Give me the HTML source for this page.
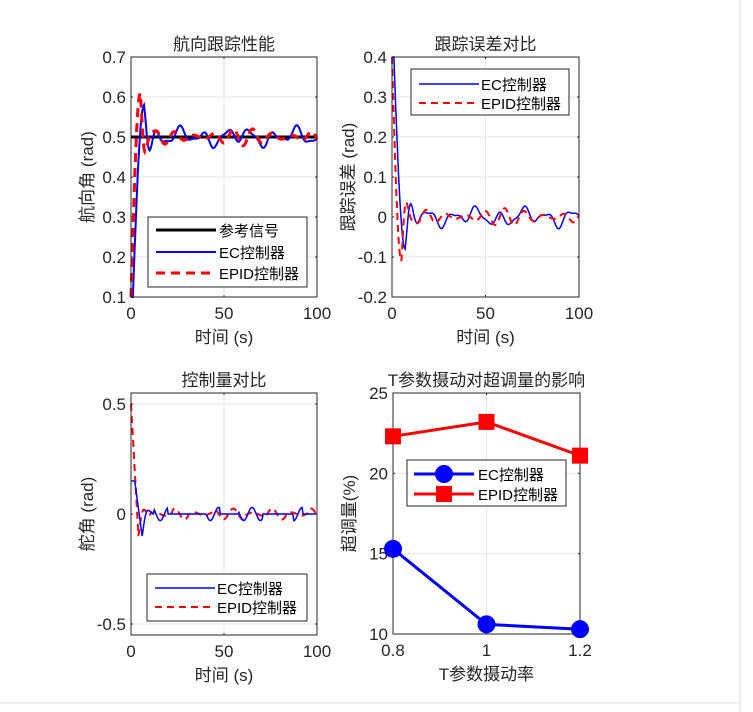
<!DOCTYPE html>
<html><head><meta charset="utf-8"><style>
body{margin:0;background:#fff;}
svg{display:block;font-family:"Liberation Sans","Noto Sans CJK SC",sans-serif;}
</style></head><body>
<svg id="s" width="753" height="712" viewBox="0 0 753 712" xmlns="http://www.w3.org/2000/svg">
<rect width="753" height="712" fill="#fff"/>
<line x1="740" y1="0" x2="740" y2="712" stroke="#ddd"/>
<line x1="0" y1="703" x2="740" y2="703" stroke="#ddd"/>
<g id="g"></g>
</svg>
<script>
const g=document.getElementById('g');let h='';
function axes(x0,y0,x1,y1,xt,yt,title,xl,yl){
 h+=`<rect x="${x0}" y="${y0}" width="${x1-x0}" height="${y1-y0}" fill="#fff"/>`;
 xt.forEach(([p,l])=>{h+=`<line x1="${p}" y1="${y0}" x2="${p}" y2="${y1}" stroke="#e6e6e6"/><line x1="${p}" y1="${y1}" x2="${p}" y2="${y1-2}" stroke="#262626"/><line x1="${p}" y1="${y0}" x2="${p}" y2="${y0+2}" stroke="#262626"/><text x="${p}" y="${y1+22}" font-size="17" text-anchor="middle" fill="#262626">${l}</text>`;});
 yt.forEach(([p,l])=>{h+=`<line x1="${x0}" y1="${p}" x2="${x1}" y2="${p}" stroke="#e6e6e6"/><line x1="${x0}" y1="${p}" x2="${x0+2}" y2="${p}" stroke="#262626"/><line x1="${x1}" y1="${p}" x2="${x1-2}" y2="${p}" stroke="#262626"/><text x="${x0-5}" y="${p+6}" font-size="17" text-anchor="end" fill="#262626">${l}</text>`;});
 h+=`<text x="${(x0+x1)/2}" y="${y0-7}" font-size="17" text-anchor="middle" fill="#262626">${title}</text>`;
 h+=`<text x="${(x0+x1)/2}" y="${y1+46}" font-size="17" text-anchor="middle" fill="#262626">${xl}</text>`;
 h+=`<text transform="translate(${x0-38},${(y0+y1)/2}) rotate(-90)" font-size="17" text-anchor="middle" fill="#262626">${yl}</text>`;
}
function frame(x0,y0,x1,y1){h+=`<rect x="${x0}" y="${y0}" width="${x1-x0}" height="${y1-y0}" fill="none" stroke="#262626"/>`;}
function path(pts,col,w,dash){h+=`<polyline points="${pts.map(p=>p[0].toFixed(1)+','+p[1].toFixed(1)).join(' ')}" fill="none" stroke="${col}" stroke-width="${w}" ${dash?'stroke-dasharray="'+dash+'"':''}/>`;}
function noise(t,s){return 0.5*Math.sin(t*0.5+s)+0.3*Math.sin(t*0.21+2*s)+0.2*Math.sin(t*0.9+3*s);}
function ec(t){ if(t<1)return 0.1; if(t<7)return 0.1+0.48*Math.sin((t-1)/6*Math.PI/2); const d=t-7;return 0.5+0.08*Math.exp(-d/3)*Math.cos(d*0.9)+0.03*noise(t,1)*(1-Math.exp(-d/5));}
function ep(t){ if(t<5)return 0.1+0.51*Math.sin(t/5*Math.PI/2); const d=t-5;return 0.5+0.11*Math.exp(-d/2)*Math.cos(d*1.1)+0.022*Math.sin(t*0.6)*(1-Math.exp(-d/5))*(0.6+0.4*Math.sin(t*0.13));}
{const X=t=>131+t*1.86,Y=v=>297-(v-0.1)*400;
axes(131,57,317,297,[[131,0],[224,50],[317,100]],[0.1,0.2,0.3,0.4,0.5,0.6,0.7].map(v=>[Y(v),v]),'航向跟踪性能','时间 (s)','航向角 (rad)');
path([[X(0),Y(.5)],[X(100),Y(.5)]],'#000',3);
let a=[],b=[];for(let t=0;t<=100;t+=0.5){a.push([X(t),Y(ec(t))]);b.push([X(t),Y(ep(t))]);}
path(a,'#0000ff',2);path(b,'#ff0000',3,'9,6');
frame(131,57,317,297);
h+=`<rect x="148" y="217" width="159" height="70" fill="#fff" stroke="#262626"/>`;
path([[156,230],[216,230]],'#000',3);path([[156,252],[216,252]],'#0000ff',2);path([[156,273],[216,273]],'#ff0000',3,'9,6');
h+=`<text x="219" y="236" font-size="15">参考信号</text><text x="219" y="258" font-size="15">EC控制器</text><text x="219" y="279" font-size="15">EPID控制器</text>`;}
{const X=t=>392+t*1.87,Y=v=>297-(v+0.2)*400;
axes(392,57,579,297,[[392,0],[485.5,50],[579,100]],[-0.2,-0.1,0,0.1,0.2,0.3,0.4].map(v=>[Y(v),v]),'跟踪误差对比','时间 (s)','跟踪误差 (rad)');
let a=[],b=[];for(let t=0;t<=100;t+=0.5){a.push([X(t),Y(0.5-ec(t))]);b.push([X(t),Y(0.5-ep(t))]);}
a[0]=[X(0),Y(0.4)];b[0]=[X(0),Y(0.4)];
path(a,'#0000ff',1.5);path(b,'#ff0000',2,'7,5');
frame(392,57,579,297);
h+=`<rect x="411" y="69" width="158" height="46" fill="#fff" stroke="#262626"/>`;
path([[419,84],[479,84]],'#0000ff',1.5);path([[419,103],[479,103]],'#ff0000',2,'7,5');
h+=`<text x="481" y="90" font-size="15">EC控制器</text><text x="481" y="109" font-size="15">EPID控制器</text>`;}
{const X=t=>131+t*1.86,Y=v=>514-v*220;
axes(131,393,317,635,[[131,0],[224,50],[317,100]],[[Y(0.5),'0.5'],[Y(0),'0'],[Y(-0.5),'-0.5']],'控制量对比','时间 (s)','舵角 (rad)');
let a=[],b=[];
for(let t=0;t<=100;t+=0.5){let v;if(t<2)v=0.15;else if(t<6)v=0.15-0.25*(t-2)/4;else if(t<12)v=-0.1*Math.exp(-(t-6)/2)*Math.cos((t-6)*0.8);else v=0.03*Math.sin(t*0.7)*(noise(t*0.5,4)>0.2?1:0);a.push([X(t),Y(v)]);
let u;if(t<4)u=0.5-0.6*t/4;else if(t<10)u=-0.1*Math.exp(-(t-4)/2)*Math.cos((t-4)*0.9);else u=0.025*Math.sin(t*0.6)*(noise(t*0.5,1)>-0.1?1:0.3);b.push([X(t),Y(u)]);}
path(b,'#ff0000',2,'7,5');path(a,'#0000ff',1.5);
frame(131,393,317,635);
h+=`<rect x="147" y="574" width="160" height="47" fill="#fff" stroke="#262626"/>`;
path([[155,588],[215,588]],'#0000ff',1.5);path([[155,607],[215,607]],'#ff0000',2,'7,5');
h+=`<text x="217" y="594" font-size="15">EC控制器</text><text x="217" y="613" font-size="15">EPID控制器</text>`;}
{const X=r=>393+(r-0.8)*467.5,Y=v=>634-(v-10)*16.07;
axes(393,393,580,634,[[X(0.8),'0.8'],[X(1),'1'],[X(1.2),'1.2']],[10,15,20,25].map(v=>[Y(v),v]),'T参数摄动对超调量的影响','T参数摄动率','超调量(%)');
const e=[[0.8,15.3],[1,10.6],[1.2,10.3]],p=[[0.8,22.3],[1,23.2],[1.2,21.1]];
path(p.map(q=>[X(q[0]),Y(q[1])]),'#ff0000',3);path(e.map(q=>[X(q[0]),Y(q[1])]),'#0000ff',3);
frame(393,393,580,634);
p.forEach(q=>h+=`<rect x="${X(q[0])-8}" y="${Y(q[1])-8}" width="16" height="16" fill="#ff0000"/>`);
e.forEach(q=>h+=`<circle cx="${X(q[0])}" cy="${Y(q[1])}" r="9" fill="#0000ff"/>`);
h+=`<rect x="407" y="460" width="159" height="46" fill="#fff" stroke="#262626"/>`;
path([[414,474],[474,474]],'#0000ff',3);h+=`<circle cx="444" cy="474" r="9" fill="#0000ff"/>`;
path([[414,494],[474,494]],'#ff0000',3);h+=`<rect x="436" y="486" width="16" height="16" fill="#ff0000"/>`;
h+=`<text x="478" y="480" font-size="15">EC控制器</text><text x="478" y="500" font-size="15">EPID控制器</text>`;
}
g.innerHTML=h;
</script>
</body></html>
